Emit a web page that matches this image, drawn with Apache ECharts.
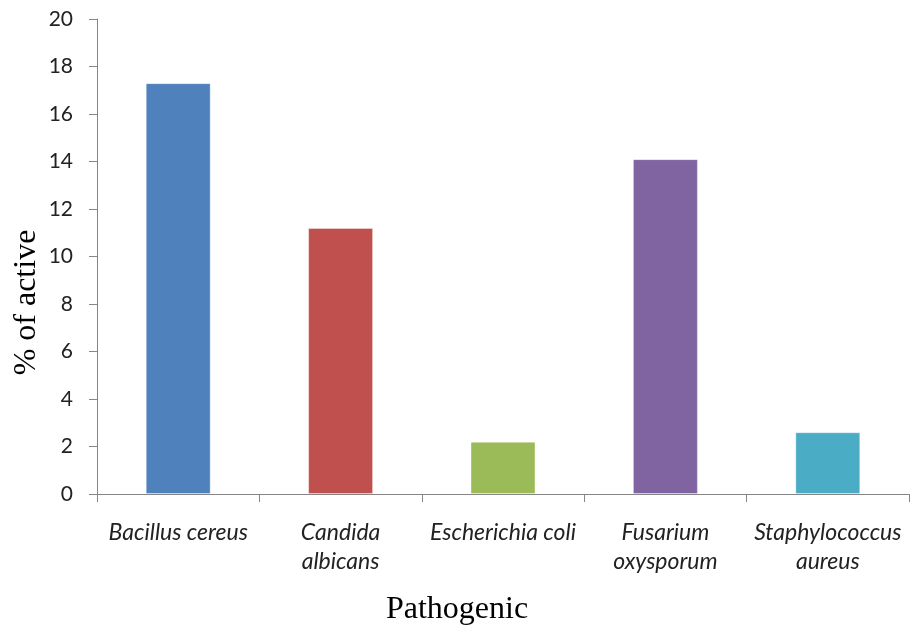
<!DOCTYPE html>
<html>
<head>
<meta charset="utf-8">
<script src="https://cdn.jsdelivr.net/npm/echarts@6/dist/echarts.min.js"></script>
<style>
  html, body { margin: 0; padding: 0; background: #fff; }
  #chart { width: 911px; height: 629px; }
</style>
</head>
<body>
<div id="chart"></div>
<script>
// Activity of isolates against each pathogen (%)
const pathogens = [
  'Bacillus cereus',
  'Candida\nalbicans',
  'Escherichia coli',
  'Fusarium\noxysporum',
  'Staphylococcus\naureus'
];
const activePercent = [17.3, 11.2, 2.2, 14.1, 2.6];
const barColors = ['#4F81BD', '#C0504D', '#9BBB59', '#8064A2', '#4BACC6'];
const yTicks = { min: 0, max: 20, step: 2 };

const chart = echarts.init(document.getElementById('chart'), null, { renderer: 'canvas' });

chart.setOption({
  animation: false,
  grid: {
    left: 97, right: 2, top: 19, bottom: 135,
    containLabel: false,
    outerBoundsMode: 'none'
  },
  xAxis: {
    type: 'category',
    data: pathogens,
    name: 'Pathogenic',
    nameLocation: 'middle',
    nameGap: 100,
    nameMoveOverlap: false,
    nameTextStyle: {
      fontFamily: 'Liberation Serif',
      fontSize: 32,
      color: '#000',
      padding: [0, 92, 0, 0]
    },
    axisLine: { lineStyle: { color: '#868686', width: 1 } },
    axisTick: { show: true, length: 8, lineStyle: { color: '#868686' } },
    axisLabel: {
      interval: 0,
      margin: 24,
      fontFamily: 'Lato',
      fontStyle: 'italic',
      fontSize: 23,
      lineHeight: 29,
      color: '#222'
    }
  },
  yAxis: {
    type: 'value',
    min: yTicks.min,
    max: yTicks.max,
    interval: yTicks.step,
    name: '% of active',
    nameLocation: 'middle',
    nameGap: 54,
    nameRotate: 90,
    nameMoveOverlap: false,
    nameTextStyle: {
      fontFamily: 'Liberation Serif',
      fontSize: 32,
      color: '#000',
      padding: [0, 92, 0, 0]
    },
    splitLine: { show: false },
    axisLine: { show: true, lineStyle: { color: '#868686', width: 1 } },
    axisTick: { show: true, length: 8, lineStyle: { color: '#868686' } },
    axisLabel: {
      margin: 24,
      fontFamily: 'Lato',
      fontSize: 21,
      color: '#222'
    }
  },
  series: [{
    type: 'bar',
    barWidth: '40%',
    data: activePercent.map((v, i) => ({
      value: v,
      itemStyle: {
        color: barColors[i],
        borderColor: 'rgba(255,255,255,0.35)',
        borderWidth: 1
      }
    }))
  }]
});
</script>
</body>
</html>
